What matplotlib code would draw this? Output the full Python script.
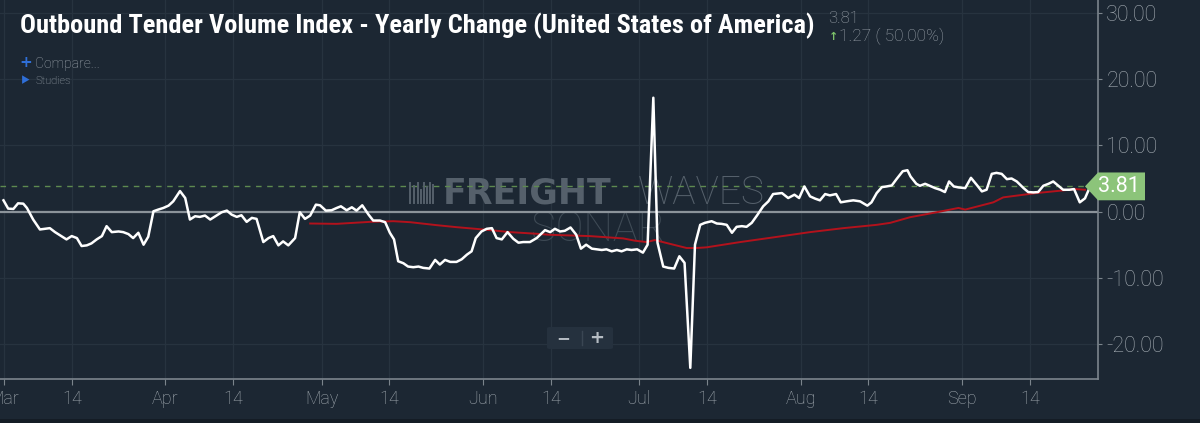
import numpy as np
import pandas as pd

import matplotlib.pyplot as plt
import matplotlib.dates as mdates
from matplotlib import font_manager
from matplotlib.ticker import FuncFormatter, FixedLocator
from matplotlib.patches import Polygon, Rectangle, FancyBboxPatch
from matplotlib.lines import Line2D
from matplotlib.transforms import blended_transform_factory

W, H = 1200, 423
BG = '#1c2733'
GRID = '#27333f'
AXIS = '#7b848c'
LABEL = '#a3abb2'
WATERMARK = '#55606b'

plt.rcParams['font.family'] = ['Roboto', 'DejaVu Sans']
plt.rcParams['font.weight'] = 'light'

BASE = pd.Timestamp('2019-03-01')

# outbound tender volume index, yearly change (days after Mar 1, %)
tvi_days = [-0.1, 0.8, 1.8, 2.7, 3.7, 4.4, 5.6, 6.9, 8.8, 9.8, 10.8, 12.0, 13.0, 14.0, 14.9,
            15.9, 16.8, 17.8, 18.8, 19.7, 20.7, 22.0, 22.9, 23.9, 24.8, 25.8, 26.8, 27.7,
            28.7, 29.6, 30.6, 31.6, 32.5, 33.8, 34.8, 35.7, 36.7, 37.6, 38.6, 39.6, 40.8,
            41.8, 42.8, 43.7, 44.7, 45.6, 46.6, 47.6, 48.5, 49.8, 50.8, 51.7, 52.7, 53.6,
            54.6, 55.9, 56.8, 57.8, 58.8, 59.9, 60.7, 61.8, 62.9, 63.9, 64.7, 65.8, 66.8,
            67.7, 68.8, 70.0, 70.9, 72.2, 73.2, 74.1, 74.9, 75.7, 76.7, 77.6, 78.6, 79.6,
            80.5, 81.7, 82.8, 83.7, 84.7, 85.7, 86.9, 87.9, 88.9, 89.8, 90.6, 91.7, 92.7,
            93.7, 94.6, 95.6, 96.7, 97.8, 98.8, 99.7, 101.0, 102.3, 103.9, 104.9, 105.8,
            106.8, 107.7, 108.8, 109.9, 110.8, 111.8, 112.9, 113.8, 114.8, 115.7, 116.7,
            117.7, 118.6, 119.6, 120.5, 121.6, 122.7, 123.6, 124.7, 125.5, 126.6, 127.6,
            128.7, 129.7, 130.7, 131.8, 132.7, 133.7, 134.6, 135.9, 136.9, 137.8, 138.8,
            139.8, 140.7, 141.7, 142.6, 143.6, 144.6, 145.8, 146.8, 147.7, 149.4, 150.6,
            151.8, 152.7, 153.7, 154.8, 155.8, 156.7, 157.7, 158.6, 159.8, 160.7, 161.8,
            163.1, 164.4, 165.8, 166.6, 167.6, 168.6, 169.5, 170.5, 171.4, 172.6, 173.5,
            174.1, 175.2, 175.9, 176.9, 177.8, 178.8, 179.8, 180.7, 181.5, 182.4, 183.3,
            184.6, 185.7, 186.8, 187.8, 188.7, 189.7, 190.6, 191.6, 192.6, 193.5, 194.5,
            195.8, 196.7, 197.7, 198.6, 199.6, 200.6, 201.5, 202.5, 203.4, 204.6, 205.5,
            206.6, 207.6, 208.6]
tvi_yoy = [1.7, 0.45, 0.4, 1.25, 1.2, 0.55, -1.2, -2.7, -2.5, -3.1, -3.6, -4.2, -3.7, -4.0, -5.2,
           -5.1, -4.8, -4.2, -3.7, -2.2, -3.1, -3.0, -3.1, -3.4, -4.0, -3.2, -5.0, -3.8,
           0.05, 0.3, 0.55, 0.9, 1.55, 3.1, 2.05, -1.2, -0.7, -0.8, -0.6, -1.2, -0.6,
           -0.1, 0.15, -0.45, -0.8, -0.55, -1.55, -0.95, -1.1, -4.6, -4.0, -3.7, -5.1, -4.5,
           -5.1, -4.0, -0.1, -1.1, -0.6, 1.05, 0.95, 0.15, 0.2, 0.55, 0.8, 0.2, 0.65,
           0.15, 0.95, -0.45, -1.35, -1.35, -1.6, -3.2, -4.2, -7.5, -7.8, -8.3, -8.4, -8.3,
           -8.5, -8.6, -7.3, -8.0, -7.3, -7.6, -7.6, -7.2, -6.5, -6.0, -4.0, -3.0, -2.6,
           -2.5, -4.0, -4.2, -3.1, -4.1, -4.7, -4.6, -4.6, -4.0, -2.8, -3.1, -2.6,
           -3.0, -2.9, -2.4, -3.5, -5.6, -5.0, -5.6, -5.7, -5.8, -5.7, -6.0,
           -5.8, -6.0, -5.7, -5.8, -5.7, -6.2, -5.0, 17.2, -4.7, -8.3, -8.5,
           -8.6, -6.75, -7.75, -23.6, -5.0, -2.0, -1.7, -1.45, -1.8, -1.85, -2.0,
           -3.2, -2.3, -2.2, -2.3, -1.7, -0.6, 0.8, 1.55, 2.65, 2.8, 2.05,
           2.55, 2.05, 3.8, 2.3, 1.95, 1.7, 2.65, 2.45, 2.65, 1.4, 1.55,
           1.7, 1.55, 0.9, 1.4, 2.8, 3.7, 3.8, 3.95, 4.9, 6.1, 6.25,
           5.3, 4.2, 3.9, 4.2, 3.9, 3.55, 3.3, 2.95, 4.55, 3.8, 3.65,
           3.55, 5.1, 4.05, 3.05, 3.3, 5.7, 5.85, 5.7, 4.9, 5.0, 4.55,
           3.55, 2.95, 2.9, 2.95, 3.9, 4.2, 4.55, 3.9, 3.3, 3.3, 3.4,
           1.4, 2.0, 3.81]

# red average line
avg_days = [58.8, 63.9, 70.3, 74.8, 78.0, 83.1, 86.9, 92.0, 97.2, 102.3, 104.7, 112.5, 118.9,
            121.2, 123.4, 125.0, 131.1, 133.0, 134.9, 141.4, 147.7, 154.8, 161.2, 167.6,
            170.2, 174.0, 179.1, 183.3, 184.6, 190.0, 191.9, 198.3, 203.4, 205.7, 207.6]
avg_yoy = [-1.8, -1.85, -1.55, -1.45, -1.6, -2.05, -2.35, -2.7, -3.1, -3.35, -3.5, -3.7, -4.05,
           -4.4, -4.6, -4.3, -5.5, -5.5, -5.4, -4.6, -3.9, -3.1, -2.5, -2.0,
           -1.7, -0.85, -0.1, 0.55, 0.3, 1.4, 2.15, 2.8, 3.2, 3.4, 3.3]

latest = 3.81
change = 1.27
change_pct = 50.00
y_ticks = [-20, -10, 0, 10, 20, 30]
title = 'Outbound Tender Volume Index - Yearly Change (United States of America)'


def to_dates(days):
    return BASE + pd.to_timedelta(days, unit='D')


def px(x, y):
    ''' pixel position -> figure fraction '''
    return x / W, 1 - y / H


def date_label(x, pos=None):
    d = mdates.num2date(x)
    return d.strftime('%b') if d.day == 1 else d.strftime('%d')


def fit_width(t, width_px):
    ''' scale a text's font size so it spans width_px '''
    r = fig.canvas.get_renderer()
    w = t.get_window_extent(r).width
    t.set_fontsize(t.get_fontsize() * width_px / w)


def narrow_family():
    ''' pick a condensed bold family if one is installed '''
    fonts = font_manager.fontManager.ttflist
    names = {f.name for f in fonts}
    for n in ['Roboto Condensed', 'Liberation Sans Narrow', 'Open Sans Condensed',
              'Noto Sans Condensed', 'DejaVu Sans Condensed', 'Arial Narrow']:
        if n in names:
            return n, 'normal'
    for f in fonts:
        if f.name in ('Noto Sans', 'Roboto', 'Open Sans') and 'condensed' in str(f.stretch):
            return f.name, 'condensed'
    return 'Roboto', 'normal'


fig = plt.figure(figsize=(W / 100, H / 100), dpi=100, facecolor=BG)
ax = fig.add_axes([0, 1 - 378.7 / H, 1098 / W, 378.7 / H])
ax.set_facecolor(BG)

ax.plot(to_dates(tvi_days), tvi_yoy, color='white', lw=1.8, zorder=4,
        solid_joinstyle='round')
ax.plot(to_dates(avg_days), avg_yoy, color='#b3121c', lw=1.4, zorder=3)
ax.axhline(0, color='#8b939a', lw=1.6, zorder=2)
ax.axhline(latest, color='#5e8a50', lw=1, ls=(0, (4, 4)), zorder=2)

ax.set_xlim(BASE - pd.Timedelta(days=0.77), BASE + pd.Timedelta(days=210.1))
ax.set_ylim(-25.24, 31.96)

# axes
for s in ['top', 'left']:
    ax.spines[s].set_visible(False)
for s in ['right', 'bottom']:
    ax.spines[s].set_color(AXIS)
    ax.spines[s].set_linewidth(1.2)

ax.xaxis.set_major_locator(mdates.DayLocator(bymonthday=[1, 14]))
ax.xaxis.set_major_formatter(FuncFormatter(date_label))
ax.tick_params(axis='x', colors=AXIS, labelcolor=LABEL, labelsize=13, length=4, pad=4)

ax.yaxis.tick_right()
ax.yaxis.set_major_locator(FixedLocator(y_ticks))
ax.yaxis.set_major_formatter(FuncFormatter(lambda v, p: '%.2f' % v))
ax.tick_params(axis='y', colors=AXIS, labelcolor=LABEL, labelsize=15.5, length=3, pad=3)

ax.grid(True, color=GRID, lw=0.9, zorder=0)
ax.set_axisbelow(True)

# watermark
ax.text(*px(443, 193), 'FREIGHT', transform=fig.transFigure, color=WATERMARK,
        family='DejaVu Sans', weight='bold', fontsize=25, va='center', ha='left', zorder=1)
ax.text(*px(638, 193), 'WAVES', transform=fig.transFigure, color=WATERMARK,
        family='Roboto', weight='light', fontsize=28, va='center', ha='left', zorder=1)
ax.text(*px(598, 229), 'SONAR', transform=fig.transFigure, color='#3e4a55',
        family='Roboto', weight='light', fontsize=30, va='center', ha='center', zorder=1)
for bx, top, bot in [(410, 183, 203), (414, 186, 203), (418, 183, 203), (421, 190, 203),
                     (424, 183, 203), (427, 187, 203), (430, 183, 203), (433, 185, 203)]:
    fig.lines.append(Line2D([bx / W, bx / W], [1 - top / H, 1 - bot / H],
                            transform=fig.transFigure, color=WATERMARK, lw=1.4, zorder=1))

# latest value tag on the right axis
tr = blended_transform_factory(fig.transFigure, ax.transData)
hh = 2.1
tag = Polygon([(1085 / W, latest), (1098 / W, latest + hh), (1145 / W, latest + hh),
               (1145 / W, latest - hh), (1098 / W, latest - hh)],
              closed=True, transform=tr, facecolor='#8cc47a', edgecolor='none',
              clip_on=False, zorder=6)
ax.add_patch(tag)
ax.text(1119 / W, latest, '%.2f' % latest, transform=tr, color='white', fontsize=15.5,
        weight='normal', ha='center', va='center', clip_on=False, zorder=7)

# header texts
tfam, tstretch = narrow_family()
ttl = fig.text(*px(20, 33.3), title, family=[tfam, 'DejaVu Sans'], fontstretch=tstretch,
               weight='bold', fontsize=18.5, color='white', va='baseline')
fit_width(ttl, 795)
fig.text(*px(828, 23), '%.2f' % latest, fontsize=12, color='#9aa2aa', va='baseline')
fig.text(*px(829, 40), '\u2191', family='DejaVu Sans', weight='bold', fontsize=8,
         color='#7cc26a', va='baseline')
fig.text(*px(839, 41), '%.2f ( %.2f%%)' % (change, change_pct), fontsize=12.5,
         color='#9aa2aa', va='baseline')
fig.text(*px(19, 67), '+', family='DejaVu Sans', weight='bold', fontsize=11,
         color='#2f6fd8', va='baseline')
fig.text(*px(35, 68), 'Compare...', fontsize=10, color='#a0a8b0', va='baseline')
fig.text(*px(21, 83.5), '\u25B6', family=['DejaVu Sans', 'Noto Sans CJK SC'], fontsize=6.5,
         color='#2f6fd8', va='baseline')
fig.text(*px(35, 83.5), 'Studies', fontsize=8, color='#a0a8b0', va='baseline')

# zoom buttons
x0, y0 = px(547, 349)
fig.patches.append(FancyBboxPatch((x0, y0), 66 / W, 22 / H, boxstyle='round,pad=0,rounding_size=0.003',
                                  transform=fig.transFigure, facecolor='#25313e',
                                  edgecolor='none', zorder=5))
fig.lines.append(Line2D([582 / W, 582 / W], [1 - 331 / H, 1 - 345 / H],
                        transform=fig.transFigure, color='#3a4653', lw=1, zorder=6))
fig.text(*px(563, 338), '\u2212', family='DejaVu Sans', weight='bold', fontsize=12,
         color='#b5bcc3', ha='center', va='center', zorder=6)
fig.text(*px(597, 338), '+', family='DejaVu Sans', weight='bold', fontsize=13,
         color='#b5bcc3', ha='center', va='center', zorder=6)

# dark bottom band
fig.patches.append(Rectangle((0, 0), 1, 4 / H, transform=fig.transFigure,
                             facecolor='#141c25', edgecolor='none', zorder=5))

fig.savefig('out.png', dpi=100, facecolor=BG)
